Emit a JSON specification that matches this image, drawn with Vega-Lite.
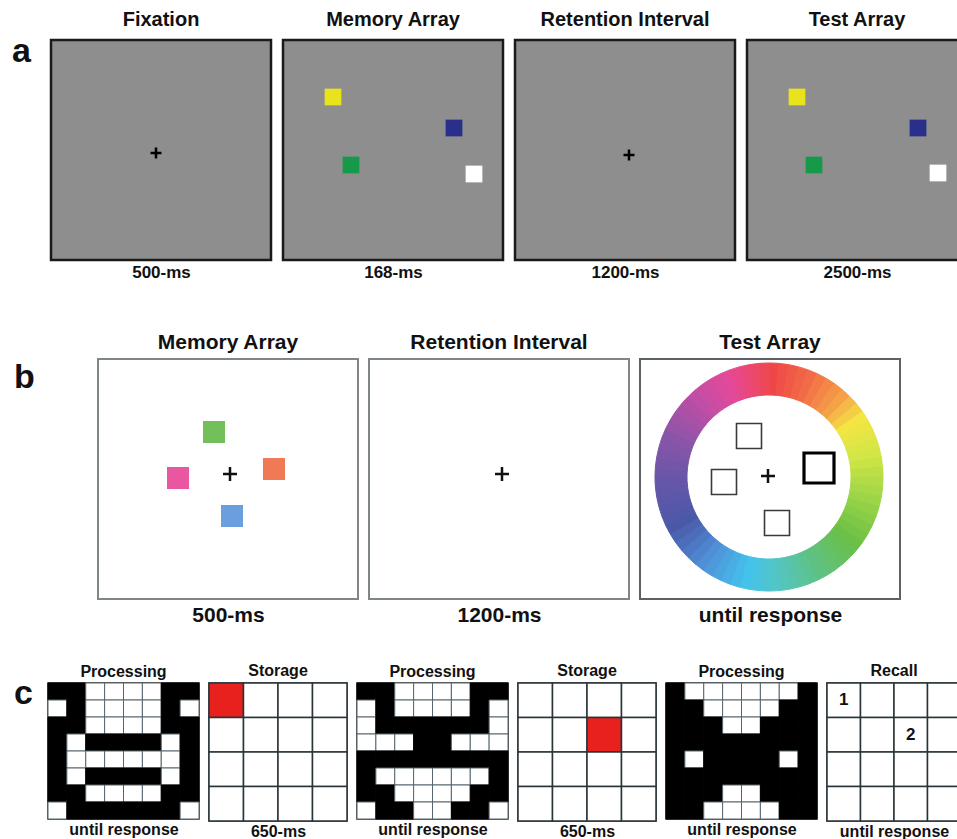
{
  "$schema": "https://vega.github.io/schema/vega-lite/v6.json",
  "padding": {"left": 0, "top": 8, "right": 0, "bottom": 0},
  "background": "#ffffff",
  "config": {
    "font": "Liberation Sans",
    "title": {"fontWeight": "bold", "color": "#111111"},
    "axis": {"labels": false, "ticks": false, "domain": false, "grid": false, "titleFontWeight": "bold", "titleColor": "#111111"}
  },
  "datasets": {
    "a_fix": [{"item": "fixation", "x": 105, "y": 113}],
    "a_mem": [{"item": "yellow", "x": 50, "y": 57}, {"item": "blue", "x": 171, "y": 88}, {"item": "green", "x": 68, "y": 125}, {"item": "white", "x": 191, "y": 134}],
    "a_ret": [{"item": "fixation", "x": 114, "y": 115}],
    "a_test": [{"item": "yellow", "x": 50, "y": 57}, {"item": "blue", "x": 171, "y": 88}, {"item": "green", "x": 67, "y": 125}, {"item": "white", "x": 191, "y": 133}],
    "b_mem": [{"item": "green", "x": 116, "y": 73}, {"item": "pink", "x": 80, "y": 119}, {"item": "orange", "x": 176, "y": 110}, {"item": "blue", "x": 134, "y": 157}],
    "b_mem_fix": [{"item": "fixation", "x": 132, "y": 115}],
    "b_ret": [{"item": "fixation", "x": 133, "y": 115}],
    "b_probes": [{"item": "probe", "x": 109, "y": 77}, {"item": "probe", "x": 84, "y": 123}, {"item": "probe", "x": 137, "y": 164}, {"item": "target", "x": 179, "y": 109}],
    "b_test_fix": [{"item": "fixation", "x": 128, "y": 117}],
    "wheel": [{"hue": 0}, {"hue": 5}, {"hue": 10}, {"hue": 15}, {"hue": 20}, {"hue": 25}, {"hue": 30}, {"hue": 35}, {"hue": 40}, {"hue": 45}, {"hue": 50}, {"hue": 55}, {"hue": 60}, {"hue": 65}, {"hue": 70}, {"hue": 75}, {"hue": 80}, {"hue": 85}, {"hue": 90}, {"hue": 95}, {"hue": 100}, {"hue": 105}, {"hue": 110}, {"hue": 115}, {"hue": 120}, {"hue": 125}, {"hue": 130}, {"hue": 135}, {"hue": 140}, {"hue": 145}, {"hue": 150}, {"hue": 155}, {"hue": 160}, {"hue": 165}, {"hue": 170}, {"hue": 175}, {"hue": 180}, {"hue": 185}, {"hue": 190}, {"hue": 195}, {"hue": 200}, {"hue": 205}, {"hue": 210}, {"hue": 215}, {"hue": 220}, {"hue": 225}, {"hue": 230}, {"hue": 235}, {"hue": 240}, {"hue": 245}, {"hue": 250}, {"hue": 255}, {"hue": 260}, {"hue": 265}, {"hue": 270}, {"hue": 275}, {"hue": 280}, {"hue": 285}, {"hue": 290}, {"hue": 295}, {"hue": 300}, {"hue": 305}, {"hue": 310}, {"hue": 315}, {"hue": 320}, {"hue": 325}, {"hue": 330}, {"hue": 335}, {"hue": 340}, {"hue": 345}, {"hue": 350}, {"hue": 355}],
    "p1": [
      {"r":0,"c":0,"v":"B"},{"r":0,"c":1,"v":"B"},{"r":0,"c":2,"v":"W"},{"r":0,"c":3,"v":"W"},{"r":0,"c":4,"v":"W"},{"r":0,"c":5,"v":"W"},{"r":0,"c":6,"v":"B"},{"r":0,"c":7,"v":"B"},
      {"r":1,"c":0,"v":"W"},{"r":1,"c":1,"v":"B"},{"r":1,"c":2,"v":"W"},{"r":1,"c":3,"v":"W"},{"r":1,"c":4,"v":"W"},{"r":1,"c":5,"v":"W"},{"r":1,"c":6,"v":"B"},{"r":1,"c":7,"v":"W"},
      {"r":2,"c":0,"v":"B"},{"r":2,"c":1,"v":"B"},{"r":2,"c":2,"v":"W"},{"r":2,"c":3,"v":"W"},{"r":2,"c":4,"v":"W"},{"r":2,"c":5,"v":"W"},{"r":2,"c":6,"v":"B"},{"r":2,"c":7,"v":"B"},
      {"r":3,"c":0,"v":"B"},{"r":3,"c":1,"v":"W"},{"r":3,"c":2,"v":"B"},{"r":3,"c":3,"v":"B"},{"r":3,"c":4,"v":"B"},{"r":3,"c":5,"v":"B"},{"r":3,"c":6,"v":"W"},{"r":3,"c":7,"v":"B"},
      {"r":4,"c":0,"v":"B"},{"r":4,"c":1,"v":"W"},{"r":4,"c":2,"v":"W"},{"r":4,"c":3,"v":"W"},{"r":4,"c":4,"v":"W"},{"r":4,"c":5,"v":"W"},{"r":4,"c":6,"v":"W"},{"r":4,"c":7,"v":"B"},
      {"r":5,"c":0,"v":"B"},{"r":5,"c":1,"v":"W"},{"r":5,"c":2,"v":"B"},{"r":5,"c":3,"v":"B"},{"r":5,"c":4,"v":"B"},{"r":5,"c":5,"v":"B"},{"r":5,"c":6,"v":"W"},{"r":5,"c":7,"v":"B"},
      {"r":6,"c":0,"v":"B"},{"r":6,"c":1,"v":"B"},{"r":6,"c":2,"v":"W"},{"r":6,"c":3,"v":"W"},{"r":6,"c":4,"v":"W"},{"r":6,"c":5,"v":"W"},{"r":6,"c":6,"v":"B"},{"r":6,"c":7,"v":"B"},
      {"r":7,"c":0,"v":"W"},{"r":7,"c":1,"v":"B"},{"r":7,"c":2,"v":"B"},{"r":7,"c":3,"v":"B"},{"r":7,"c":4,"v":"B"},{"r":7,"c":5,"v":"B"},{"r":7,"c":6,"v":"B"},{"r":7,"c":7,"v":"W"}
    ],
    "p2": [
      {"r":0,"c":0,"v":"B"},{"r":0,"c":1,"v":"B"},{"r":0,"c":2,"v":"W"},{"r":0,"c":3,"v":"W"},{"r":0,"c":4,"v":"W"},{"r":0,"c":5,"v":"W"},{"r":0,"c":6,"v":"B"},{"r":0,"c":7,"v":"B"},
      {"r":1,"c":0,"v":"W"},{"r":1,"c":1,"v":"B"},{"r":1,"c":2,"v":"W"},{"r":1,"c":3,"v":"W"},{"r":1,"c":4,"v":"W"},{"r":1,"c":5,"v":"W"},{"r":1,"c":6,"v":"B"},{"r":1,"c":7,"v":"W"},
      {"r":2,"c":0,"v":"W"},{"r":2,"c":1,"v":"B"},{"r":2,"c":2,"v":"B"},{"r":2,"c":3,"v":"B"},{"r":2,"c":4,"v":"B"},{"r":2,"c":5,"v":"B"},{"r":2,"c":6,"v":"B"},{"r":2,"c":7,"v":"W"},
      {"r":3,"c":0,"v":"W"},{"r":3,"c":1,"v":"W"},{"r":3,"c":2,"v":"W"},{"r":3,"c":3,"v":"B"},{"r":3,"c":4,"v":"B"},{"r":3,"c":5,"v":"W"},{"r":3,"c":6,"v":"W"},{"r":3,"c":7,"v":"W"},
      {"r":4,"c":0,"v":"B"},{"r":4,"c":1,"v":"B"},{"r":4,"c":2,"v":"B"},{"r":4,"c":3,"v":"B"},{"r":4,"c":4,"v":"B"},{"r":4,"c":5,"v":"B"},{"r":4,"c":6,"v":"B"},{"r":4,"c":7,"v":"B"},
      {"r":5,"c":0,"v":"B"},{"r":5,"c":1,"v":"W"},{"r":5,"c":2,"v":"W"},{"r":5,"c":3,"v":"W"},{"r":5,"c":4,"v":"W"},{"r":5,"c":5,"v":"W"},{"r":5,"c":6,"v":"W"},{"r":5,"c":7,"v":"B"},
      {"r":6,"c":0,"v":"B"},{"r":6,"c":1,"v":"B"},{"r":6,"c":2,"v":"W"},{"r":6,"c":3,"v":"W"},{"r":6,"c":4,"v":"W"},{"r":6,"c":5,"v":"W"},{"r":6,"c":6,"v":"B"},{"r":6,"c":7,"v":"B"},
      {"r":7,"c":0,"v":"W"},{"r":7,"c":1,"v":"B"},{"r":7,"c":2,"v":"B"},{"r":7,"c":3,"v":"W"},{"r":7,"c":4,"v":"W"},{"r":7,"c":5,"v":"B"},{"r":7,"c":6,"v":"B"},{"r":7,"c":7,"v":"W"}
    ],
    "p3": [
      {"r":0,"c":0,"v":"B"},{"r":0,"c":1,"v":"W"},{"r":0,"c":2,"v":"W"},{"r":0,"c":3,"v":"W"},{"r":0,"c":4,"v":"W"},{"r":0,"c":5,"v":"W"},{"r":0,"c":6,"v":"W"},{"r":0,"c":7,"v":"B"},
      {"r":1,"c":0,"v":"B"},{"r":1,"c":1,"v":"B"},{"r":1,"c":2,"v":"W"},{"r":1,"c":3,"v":"W"},{"r":1,"c":4,"v":"W"},{"r":1,"c":5,"v":"W"},{"r":1,"c":6,"v":"B"},{"r":1,"c":7,"v":"B"},
      {"r":2,"c":0,"v":"B"},{"r":2,"c":1,"v":"B"},{"r":2,"c":2,"v":"B"},{"r":2,"c":3,"v":"W"},{"r":2,"c":4,"v":"W"},{"r":2,"c":5,"v":"B"},{"r":2,"c":6,"v":"B"},{"r":2,"c":7,"v":"B"},
      {"r":3,"c":0,"v":"B"},{"r":3,"c":1,"v":"B"},{"r":3,"c":2,"v":"B"},{"r":3,"c":3,"v":"B"},{"r":3,"c":4,"v":"B"},{"r":3,"c":5,"v":"B"},{"r":3,"c":6,"v":"B"},{"r":3,"c":7,"v":"B"},
      {"r":4,"c":0,"v":"B"},{"r":4,"c":1,"v":"W"},{"r":4,"c":2,"v":"B"},{"r":4,"c":3,"v":"B"},{"r":4,"c":4,"v":"B"},{"r":4,"c":5,"v":"B"},{"r":4,"c":6,"v":"W"},{"r":4,"c":7,"v":"B"},
      {"r":5,"c":0,"v":"B"},{"r":5,"c":1,"v":"B"},{"r":5,"c":2,"v":"B"},{"r":5,"c":3,"v":"B"},{"r":5,"c":4,"v":"B"},{"r":5,"c":5,"v":"B"},{"r":5,"c":6,"v":"B"},{"r":5,"c":7,"v":"B"},
      {"r":6,"c":0,"v":"B"},{"r":6,"c":1,"v":"B"},{"r":6,"c":2,"v":"B"},{"r":6,"c":3,"v":"W"},{"r":6,"c":4,"v":"W"},{"r":6,"c":5,"v":"B"},{"r":6,"c":6,"v":"B"},{"r":6,"c":7,"v":"B"},
      {"r":7,"c":0,"v":"B"},{"r":7,"c":1,"v":"B"},{"r":7,"c":2,"v":"W"},{"r":7,"c":3,"v":"W"},{"r":7,"c":4,"v":"W"},{"r":7,"c":5,"v":"W"},{"r":7,"c":6,"v":"B"},{"r":7,"c":7,"v":"B"}
    ],
    "s1": [
      {"r":0,"c":0,"v":"R"},{"r":0,"c":1,"v":"W"},{"r":0,"c":2,"v":"W"},{"r":0,"c":3,"v":"W"},
      {"r":1,"c":0,"v":"W"},{"r":1,"c":1,"v":"W"},{"r":1,"c":2,"v":"W"},{"r":1,"c":3,"v":"W"},
      {"r":2,"c":0,"v":"W"},{"r":2,"c":1,"v":"W"},{"r":2,"c":2,"v":"W"},{"r":2,"c":3,"v":"W"},
      {"r":3,"c":0,"v":"W"},{"r":3,"c":1,"v":"W"},{"r":3,"c":2,"v":"W"},{"r":3,"c":3,"v":"W"}
    ],
    "s2": [
      {"r":0,"c":0,"v":"W"},{"r":0,"c":1,"v":"W"},{"r":0,"c":2,"v":"W"},{"r":0,"c":3,"v":"W"},
      {"r":1,"c":0,"v":"W"},{"r":1,"c":1,"v":"W"},{"r":1,"c":2,"v":"R"},{"r":1,"c":3,"v":"W"},
      {"r":2,"c":0,"v":"W"},{"r":2,"c":1,"v":"W"},{"r":2,"c":2,"v":"W"},{"r":2,"c":3,"v":"W"},
      {"r":3,"c":0,"v":"W"},{"r":3,"c":1,"v":"W"},{"r":3,"c":2,"v":"W"},{"r":3,"c":3,"v":"W"}
    ],
    "recall": [
      {"r":0,"c":0,"label":"1"},{"r":0,"c":1,"label":""},{"r":0,"c":2,"label":""},{"r":0,"c":3,"label":""},
      {"r":1,"c":0,"label":""},{"r":1,"c":1,"label":""},{"r":1,"c":2,"label":"2"},{"r":1,"c":3,"label":""},
      {"r":2,"c":0,"label":""},{"r":2,"c":1,"label":""},{"r":2,"c":2,"label":""},{"r":2,"c":3,"label":""},
      {"r":3,"c":0,"label":""},{"r":3,"c":1,"label":""},{"r":3,"c":2,"label":""},{"r":3,"c":3,"label":""}
    ]
  },
  "vconcat": [
    {
      "vconcat": [
        {
          "hconcat": [
            {
              "width": 41, "height": 220, "view": {"stroke": null},
              "data": {"values": [{"panel": "a"}]},
              "mark": {"type": "text", "fontSize": 34, "fontWeight": "bold", "align": "left", "baseline": "alphabetic", "x": 12, "y": 22, "color": "#111111"},
              "encoding": {"text": {"field": "panel"}}
            },
            {
              "width": 220, "height": 220,
              "title": {"text": "Fixation", "fontSize": 20, "offset": 10},
              "view": {"fill": "#8e8e8e", "stroke": "#1a1a1a", "strokeWidth": 2.5},
              "data": {"name": "a_fix"},
              "mark": {"type": "point", "shape": "M-1,0L1,0M0,-1L0,1", "filled": false, "size": 121, "stroke": "#000000", "strokeWidth": 2.5, "opacity": 1},
              "encoding": {
                "x": {"field": "x", "type": "quantitative", "scale": {"domain": [0, 220], "nice": false}, "axis": {"title": "500-ms", "titleFontSize": 17, "titlePadding": 4}},
                "y": {"field": "y", "type": "quantitative", "scale": {"domain": [0, 220], "nice": false, "reverse": true}, "axis": null}
              }
            },
            {
              "width": 220, "height": 220,
              "title": {"text": "Memory Array", "fontSize": 20, "offset": 10},
              "view": {"fill": "#8e8e8e", "stroke": "#1a1a1a", "strokeWidth": 2.5},
              "data": {"name": "a_mem"},
              "mark": {"type": "point", "shape": "square", "filled": true, "size": 280, "strokeWidth": 0, "opacity": 1},
              "encoding": {
                "x": {"field": "x", "type": "quantitative", "scale": {"domain": [0, 220], "nice": false}, "axis": {"title": "168-ms", "titleFontSize": 17, "titlePadding": 4}},
                "y": {"field": "y", "type": "quantitative", "scale": {"domain": [0, 220], "nice": false, "reverse": true}, "axis": null},
                "color": {"field": "item", "type": "nominal", "scale": {"domain": ["yellow", "blue", "green", "white"], "range": ["#e9e31c", "#2b2f8c", "#17994a", "#ffffff"]}, "legend": null}
              }
            },
            {
              "width": 220, "height": 220,
              "title": {"text": "Retention Interval", "fontSize": 20, "offset": 10},
              "view": {"fill": "#8e8e8e", "stroke": "#1a1a1a", "strokeWidth": 2.5},
              "data": {"name": "a_ret"},
              "mark": {"type": "point", "shape": "M-1,0L1,0M0,-1L0,1", "filled": false, "size": 121, "stroke": "#000000", "strokeWidth": 2.5, "opacity": 1},
              "encoding": {
                "x": {"field": "x", "type": "quantitative", "scale": {"domain": [0, 220], "nice": false}, "axis": {"title": "1200-ms", "titleFontSize": 17, "titlePadding": 4}},
                "y": {"field": "y", "type": "quantitative", "scale": {"domain": [0, 220], "nice": false, "reverse": true}, "axis": null}
              }
            },
            {
              "width": 220, "height": 220,
              "title": {"text": "Test Array", "fontSize": 20, "offset": 10},
              "view": {"fill": "#8e8e8e", "stroke": "#1a1a1a", "strokeWidth": 2.5},
              "data": {"name": "a_test"},
              "mark": {"type": "point", "shape": "square", "filled": true, "size": 280, "strokeWidth": 0, "opacity": 1},
              "encoding": {
                "x": {"field": "x", "type": "quantitative", "scale": {"domain": [0, 220], "nice": false}, "axis": {"title": "2500-ms", "titleFontSize": 17, "titlePadding": 4}},
                "y": {"field": "y", "type": "quantitative", "scale": {"domain": [0, 220], "nice": false, "reverse": true}, "axis": null},
                "color": {"field": "item", "type": "nominal", "scale": {"domain": ["yellow", "blue", "green", "white"], "range": ["#e9e31c", "#2b2f8c", "#17994a", "#ffffff"]}, "legend": null}
              }
            }
          ],
          "spacing": 8
        },
        {
          "hconcat": [
            {
              "width": 88, "height": 240, "view": {"stroke": null},
              "data": {"values": [{"panel": "b"}]},
              "mark": {"type": "text", "fontSize": 34, "fontWeight": "bold", "align": "left", "baseline": "alphabetic", "x": 14, "y": 29, "color": "#111111"},
              "encoding": {"text": {"field": "panel"}}
            },
            {
              "width": 260, "height": 240,
              "title": {"text": "Memory Array", "fontSize": 21, "offset": 6},
              "view": {"fill": "#ffffff", "stroke": "#7f868a", "strokeWidth": 2},
              "layer": [
                {
                  "data": {"name": "b_mem"},
                  "mark": {"type": "point", "shape": "square", "filled": true, "size": 484, "strokeWidth": 0, "opacity": 1},
                  "encoding": {
                    "x": {"field": "x", "type": "quantitative", "scale": {"domain": [0, 260], "nice": false}, "axis": {"title": "500-ms", "titleFontSize": 21, "titlePadding": 5}},
                    "y": {"field": "y", "type": "quantitative", "scale": {"domain": [0, 240], "nice": false, "reverse": true}, "axis": null},
                    "color": {"field": "item", "type": "nominal", "scale": {"domain": ["green", "pink", "orange", "blue"], "range": ["#73c05a", "#e8579f", "#f07a55", "#6a9edc"]}, "legend": null}
                  }
                },
                {
                  "data": {"name": "b_mem_fix"},
                  "mark": {"type": "point", "shape": "M-1,0L1,0M0,-1L0,1", "filled": false, "size": 196, "stroke": "#111111", "strokeWidth": 2.5, "opacity": 1},
                  "encoding": {
                    "x": {"field": "x", "type": "quantitative", "scale": {"domain": [0, 260], "nice": false}, "axis": {"title": "500-ms", "titleFontSize": 21, "titlePadding": 5}},
                    "y": {"field": "y", "type": "quantitative", "scale": {"domain": [0, 240], "nice": false, "reverse": true}, "axis": null}
                  }
                }
              ]
            },
            {
              "width": 260, "height": 240,
              "title": {"text": "Retention Interval", "fontSize": 21, "offset": 6},
              "view": {"fill": "#ffffff", "stroke": "#7f868a", "strokeWidth": 2},
              "data": {"name": "b_ret"},
              "mark": {"type": "point", "shape": "M-1,0L1,0M0,-1L0,1", "filled": false, "size": 196, "stroke": "#111111", "strokeWidth": 2.5, "opacity": 1},
              "encoding": {
                "x": {"field": "x", "type": "quantitative", "scale": {"domain": [0, 260], "nice": false}, "axis": {"title": "1200-ms", "titleFontSize": 21, "titlePadding": 5}},
                "y": {"field": "y", "type": "quantitative", "scale": {"domain": [0, 240], "nice": false, "reverse": true}, "axis": null}
              }
            },
            {
              "width": 260, "height": 240,
              "title": {"text": "Test Array", "fontSize": 21, "offset": 6},
              "view": {"fill": "#ffffff", "stroke": "#5c6164", "strokeWidth": 2},
              "layer": [
                {
                  "data": {"name": "wheel"},
                  "mark": {"type": "arc", "radius": 114, "radius2": 82, "strokeWidth": 1, "padAngle": 0},
                  "encoding": {
                    "theta": {"aggregate": "count", "type": "quantitative", "stack": true},
                    "order": {"field": "hue", "type": "quantitative"},
                    "color": {"field": "hue", "type": "quantitative", "scale": {"domain": [0, 20, 40, 55, 75, 100, 125, 150, 170, 190, 215, 240, 265, 290, 315, 335, 355], "range": ["#ef4747", "#f26b47", "#f5a247", "#f3e644", "#d2e645", "#9cd548", "#6bc045", "#5ec184", "#55c5bc", "#43c3ec", "#4f8fd6", "#4a58a8", "#6656aa", "#8a55a8", "#c04ea6", "#e4489a", "#ee4858"], "interpolate": "rgb", "clamp": true}, "legend": null},
                    "stroke": {"field": "hue", "type": "quantitative", "scale": {"domain": [0, 20, 40, 55, 75, 100, 125, 150, 170, 190, 215, 240, 265, 290, 315, 335, 355], "range": ["#ef4747", "#f26b47", "#f5a247", "#f3e644", "#d2e645", "#9cd548", "#6bc045", "#5ec184", "#55c5bc", "#43c3ec", "#4f8fd6", "#4a58a8", "#6656aa", "#8a55a8", "#c04ea6", "#e4489a", "#ee4858"], "interpolate": "rgb", "clamp": true}, "legend": null},
                    "x": {"datum": 129, "type": "quantitative", "scale": {"domain": [0, 260], "nice": false}, "axis": {"title": "until response", "titleFontSize": 21, "titlePadding": 5}},
                    "y": {"datum": 118, "type": "quantitative", "scale": {"domain": [0, 240], "nice": false, "reverse": true}, "axis": null}
                  }
                },
                {
                  "data": {"name": "b_probes"},
                  "mark": {"type": "point", "shape": "square", "filled": false, "opacity": 1},
                  "encoding": {
                    "x": {"field": "x", "type": "quantitative", "scale": {"domain": [0, 260], "nice": false}, "axis": {"title": "until response", "titleFontSize": 21, "titlePadding": 5}},
                    "y": {"field": "y", "type": "quantitative", "scale": {"domain": [0, 240], "nice": false, "reverse": true}, "axis": null},
                    "size": {"field": "item", "type": "ordinal", "scale": {"domain": ["probe", "target"], "range": [625, 900]}, "legend": null},
                    "strokeWidth": {"field": "item", "type": "ordinal", "scale": {"domain": ["probe", "target"], "range": [1.6, 3.2]}, "legend": null},
                    "stroke": {"field": "item", "type": "nominal", "scale": {"domain": ["probe", "target"], "range": ["#3a3a3a", "#000000"]}, "legend": null}
                  }
                },
                {
                  "data": {"name": "b_test_fix"},
                  "mark": {"type": "point", "shape": "M-1,0L1,0M0,-1L0,1", "filled": false, "size": 196, "stroke": "#111111", "strokeWidth": 2.5, "opacity": 1},
                  "encoding": {
                    "x": {"field": "x", "type": "quantitative", "scale": {"domain": [0, 260], "nice": false}, "axis": {"title": "until response", "titleFontSize": 21, "titlePadding": 5}},
                    "y": {"field": "y", "type": "quantitative", "scale": {"domain": [0, 240], "nice": false, "reverse": true}, "axis": null}
                  }
                }
              ]
            }
          ],
          "spacing": 9
        }
      ],
      "spacing": 49
    },
    {
      "hconcat": [
        {
          "width": 40, "height": 136, "view": {"stroke": null},
          "data": {"values": [{"panel": "c"}]},
          "mark": {"type": "text", "fontSize": 34, "fontWeight": "bold", "align": "left", "baseline": "alphabetic", "x": 14, "y": 21, "color": "#111111"},
          "encoding": {"text": {"field": "panel"}}
        },
        {
          "width": 151, "height": 136,
          "title": {"text": "Processing", "fontSize": 16, "offset": 3},
          "view": {"stroke": "#222222", "strokeWidth": 1.5},
          "data": {"name": "p1"},
          "mark": {"type": "rect", "strokeWidth": 1},
          "encoding": {
            "x": {"field": "c", "type": "ordinal", "scale": {"paddingInner": 0, "paddingOuter": 0}, "axis": {"title": "until response", "titleFontSize": 16, "titlePadding": 2}},
            "y": {"field": "r", "type": "ordinal", "scale": {"paddingInner": 0, "paddingOuter": 0}, "axis": null},
            "fill": {"field": "v", "type": "nominal", "scale": {"domain": ["B", "W", "R"], "range": ["#000000", "#ffffff", "#e8211f"]}, "legend": null},
            "stroke": {"field": "v", "type": "nominal", "scale": {"domain": ["B", "W", "R"], "range": ["#000000", "#56666e", "#2a3438"]}, "legend": null}
          }
        },
        {
          "width": 138, "height": 138,
          "title": {"text": "Storage", "fontSize": 16, "offset": 3},
          "view": {"stroke": "#2a3438", "strokeWidth": 1.5},
          "data": {"name": "s1"},
          "mark": {"type": "rect", "stroke": "#2a3438", "strokeWidth": 1.5},
          "encoding": {
            "x": {"field": "c", "type": "ordinal", "scale": {"paddingInner": 0, "paddingOuter": 0}, "axis": {"title": "650-ms", "titleFontSize": 16, "titlePadding": 2}},
            "y": {"field": "r", "type": "ordinal", "scale": {"paddingInner": 0, "paddingOuter": 0}, "axis": null},
            "fill": {"field": "v", "type": "nominal", "scale": {"domain": ["B", "W", "R"], "range": ["#000000", "#ffffff", "#e8211f"]}, "legend": null}
          }
        },
        {
          "width": 151, "height": 136,
          "title": {"text": "Processing", "fontSize": 16, "offset": 3},
          "view": {"stroke": "#222222", "strokeWidth": 1.5},
          "data": {"name": "p2"},
          "mark": {"type": "rect", "strokeWidth": 1},
          "encoding": {
            "x": {"field": "c", "type": "ordinal", "scale": {"paddingInner": 0, "paddingOuter": 0}, "axis": {"title": "until response", "titleFontSize": 16, "titlePadding": 2}},
            "y": {"field": "r", "type": "ordinal", "scale": {"paddingInner": 0, "paddingOuter": 0}, "axis": null},
            "fill": {"field": "v", "type": "nominal", "scale": {"domain": ["B", "W", "R"], "range": ["#000000", "#ffffff", "#e8211f"]}, "legend": null},
            "stroke": {"field": "v", "type": "nominal", "scale": {"domain": ["B", "W", "R"], "range": ["#000000", "#56666e", "#2a3438"]}, "legend": null}
          }
        },
        {
          "width": 138, "height": 138,
          "title": {"text": "Storage", "fontSize": 16, "offset": 3},
          "view": {"stroke": "#2a3438", "strokeWidth": 1.5},
          "data": {"name": "s2"},
          "mark": {"type": "rect", "stroke": "#2a3438", "strokeWidth": 1.5},
          "encoding": {
            "x": {"field": "c", "type": "ordinal", "scale": {"paddingInner": 0, "paddingOuter": 0}, "axis": {"title": "650-ms", "titleFontSize": 16, "titlePadding": 2}},
            "y": {"field": "r", "type": "ordinal", "scale": {"paddingInner": 0, "paddingOuter": 0}, "axis": null},
            "fill": {"field": "v", "type": "nominal", "scale": {"domain": ["B", "W", "R"], "range": ["#000000", "#ffffff", "#e8211f"]}, "legend": null}
          }
        },
        {
          "width": 151, "height": 136,
          "title": {"text": "Processing", "fontSize": 16, "offset": 3},
          "view": {"stroke": "#222222", "strokeWidth": 1.5},
          "data": {"name": "p3"},
          "mark": {"type": "rect", "strokeWidth": 1},
          "encoding": {
            "x": {"field": "c", "type": "ordinal", "scale": {"paddingInner": 0, "paddingOuter": 0}, "axis": {"title": "until response", "titleFontSize": 16, "titlePadding": 2}},
            "y": {"field": "r", "type": "ordinal", "scale": {"paddingInner": 0, "paddingOuter": 0}, "axis": null},
            "fill": {"field": "v", "type": "nominal", "scale": {"domain": ["B", "W", "R"], "range": ["#000000", "#ffffff", "#e8211f"]}, "legend": null},
            "stroke": {"field": "v", "type": "nominal", "scale": {"domain": ["B", "W", "R"], "range": ["#000000", "#56666e", "#2a3438"]}, "legend": null}
          }
        },
        {
          "width": 134, "height": 138,
          "title": {"text": "Recall", "fontSize": 16, "offset": 3},
          "view": {"stroke": "#2a3438", "strokeWidth": 1.5},
          "data": {"name": "recall"},
          "encoding": {
            "x": {"field": "c", "type": "ordinal", "scale": {"paddingInner": 0, "paddingOuter": 0}, "axis": {"title": "until response", "titleFontSize": 16, "titlePadding": 2}},
            "y": {"field": "r", "type": "ordinal", "scale": {"paddingInner": 0, "paddingOuter": 0}, "axis": null}
          },
          "layer": [
            {"mark": {"type": "rect", "fill": "#ffffff", "stroke": "#2a3438", "strokeWidth": 1.5}},
            {"mark": {"type": "text", "fontSize": 17, "fontWeight": "bold", "color": "#111111"}, "encoding": {"text": {"field": "label"}}}
          ]
        }
      ],
      "spacing": 6
    }
  ],
  "spacing": 36
}
